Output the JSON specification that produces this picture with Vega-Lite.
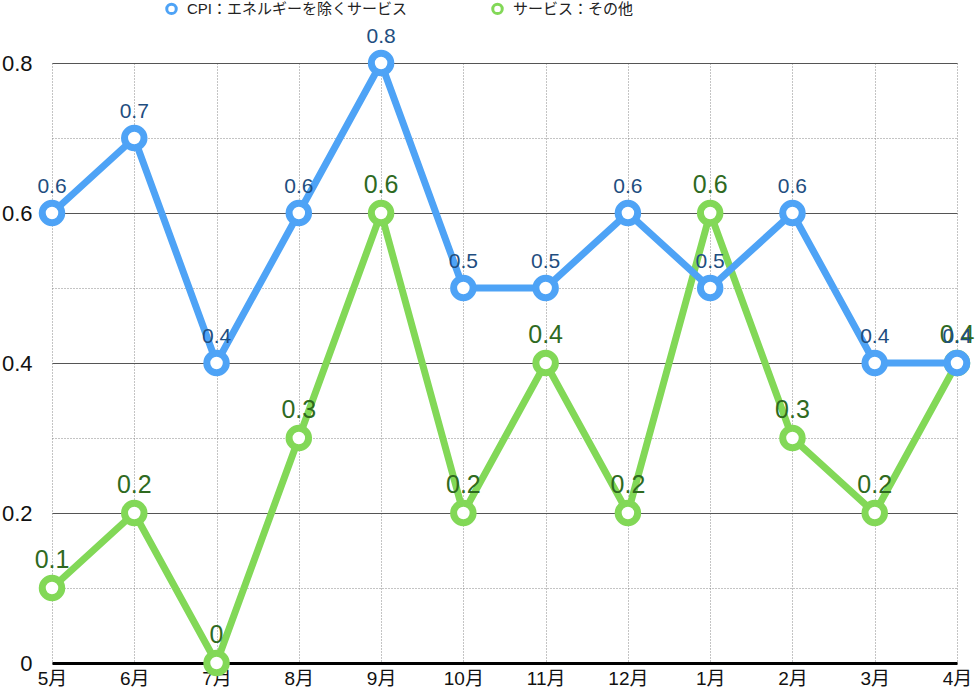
{
  "$schema": "https://vega.github.io/schema/vega-lite/v6.json",
  "background": "white",
  "width": 905,
  "height": 600,
  "autosize": {"type": "none"},
  "padding": {"left": 52, "top": 63, "right": 19, "bottom": 27},
  "data": {
    "values": [
      {"month": "5月", "series": "CPI：エネルギーを除くサービス", "value": 0.6},
      {"month": "6月", "series": "CPI：エネルギーを除くサービス", "value": 0.7},
      {"month": "7月", "series": "CPI：エネルギーを除くサービス", "value": 0.4},
      {"month": "8月", "series": "CPI：エネルギーを除くサービス", "value": 0.6},
      {"month": "9月", "series": "CPI：エネルギーを除くサービス", "value": 0.8},
      {"month": "10月", "series": "CPI：エネルギーを除くサービス", "value": 0.5},
      {"month": "11月", "series": "CPI：エネルギーを除くサービス", "value": 0.5},
      {"month": "12月", "series": "CPI：エネルギーを除くサービス", "value": 0.6},
      {"month": "1月", "series": "CPI：エネルギーを除くサービス", "value": 0.5},
      {"month": "2月", "series": "CPI：エネルギーを除くサービス", "value": 0.6},
      {"month": "3月", "series": "CPI：エネルギーを除くサービス", "value": 0.4},
      {"month": "4月", "series": "CPI：エネルギーを除くサービス", "value": 0.4},
      {"month": "5月", "series": "サービス：その他", "value": 0.1},
      {"month": "6月", "series": "サービス：その他", "value": 0.2},
      {"month": "7月", "series": "サービス：その他", "value": 0},
      {"month": "8月", "series": "サービス：その他", "value": 0.3},
      {"month": "9月", "series": "サービス：その他", "value": 0.6},
      {"month": "10月", "series": "サービス：その他", "value": 0.2},
      {"month": "11月", "series": "サービス：その他", "value": 0.4},
      {"month": "12月", "series": "サービス：その他", "value": 0.2},
      {"month": "1月", "series": "サービス：その他", "value": 0.6},
      {"month": "2月", "series": "サービス：その他", "value": 0.3},
      {"month": "3月", "series": "サービス：その他", "value": 0.2},
      {"month": "4月", "series": "サービス：その他", "value": 0.4}
    ]
  },
  "encoding": {
    "x": {
      "field": "month",
      "type": "ordinal",
      "sort": ["5月", "6月", "7月", "8月", "9月", "10月", "11月", "12月", "1月", "2月", "3月", "4月"],
      "scale": {"type": "point", "padding": 0},
      "axis": {
        "title": null,
        "labelAngle": 0,
        "labelFontSize": 19,
        "labelColor": "#111",
        "labelPadding": 6,
        "ticks": false,
        "domain": true,
        "domainColor": "black",
        "domainWidth": 3,
        "grid": true,
        "gridColor": "#888",
        "gridDash": [1, 2]
      }
    },
    "y": {
      "field": "value",
      "type": "quantitative",
      "scale": {"domain": [0, 0.8], "nice": false},
      "axis": {
        "title": null,
        "values": [0, 0.1, 0.2, 0.3, 0.4, 0.5, 0.6, 0.7, 0.8],
        "labelExpr": "round(datum.value * 10) % 2 == 0 ? (datum.value == 0 ? '0' : format(datum.value, '.1f')) : ''",
        "labelFontSize": 22,
        "labelColor": "#111",
        "labelPadding": 20,
        "ticks": false,
        "domain": false,
        "grid": true,
        "gridColor": {"condition": {"test": "round(datum.value * 10) % 2 == 1", "value": "#888"}, "value": "#555"},
        "gridDash": {"condition": {"test": "round(datum.value * 10) % 2 == 1", "value": [1, 2]}, "value": []}
      }
    },
    "color": {
      "field": "series",
      "type": "nominal",
      "scale": {
        "domain": ["CPI：エネルギーを除くサービス", "サービス：その他"],
        "range": ["#4ea3f6", "#82d857"]
      },
      "legend": {
        "title": null,
        "orient": "none",
        "legendX": 112,
        "legendY": -62,
        "direction": "horizontal",
        "symbolType": "circle",
        "symbolSize": 90,
        "symbolStrokeWidth": 3,
        "symbolFillColor": "white",
        "labelFontSize": 15,
        "labelColor": "#222",
        "labelOffset": 8,
        "labelLimit": 400,
        "columnPadding": 78
      }
    }
  },
  "layer": [
    {
      "transform": [{"filter": "datum.series == 'サービス：その他'"}],
      "layer": [
        {"mark": {"type": "line", "strokeWidth": 7}},
        {"mark": {"type": "point", "filled": false, "fill": "white", "size": 380, "strokeWidth": 7, "opacity": 1}},
        {
          "mark": {"type": "text", "fontSize": 25, "baseline": "alphabetic", "dy": -20},
          "encoding": {"text": {"field": "value", "type": "quantitative"}, "color": {"value": "#2f6a1f"}}
        }
      ]
    },
    {
      "transform": [{"filter": "datum.series == 'CPI：エネルギーを除くサービス'"}],
      "layer": [
        {"mark": {"type": "line", "strokeWidth": 7}},
        {"mark": {"type": "point", "filled": false, "fill": "white", "size": 380, "strokeWidth": 7, "opacity": 1}},
        {
          "mark": {"type": "text", "fontSize": 21, "baseline": "alphabetic", "dy": -20},
          "encoding": {"text": {"field": "value", "type": "quantitative"}, "color": {"value": "#1f4e80"}}
        }
      ]
    }
  ],
  "config": {
    "font": "Liberation Sans, Noto Sans CJK JP",
    "axis": {"labelFont": "Liberation Sans, Noto Sans CJK JP"},
    "legend": {"labelFont": "Liberation Sans, Noto Sans CJK JP"},
    "text": {"font": "Liberation Sans"},
    "view": {"stroke": null}
  }
}
